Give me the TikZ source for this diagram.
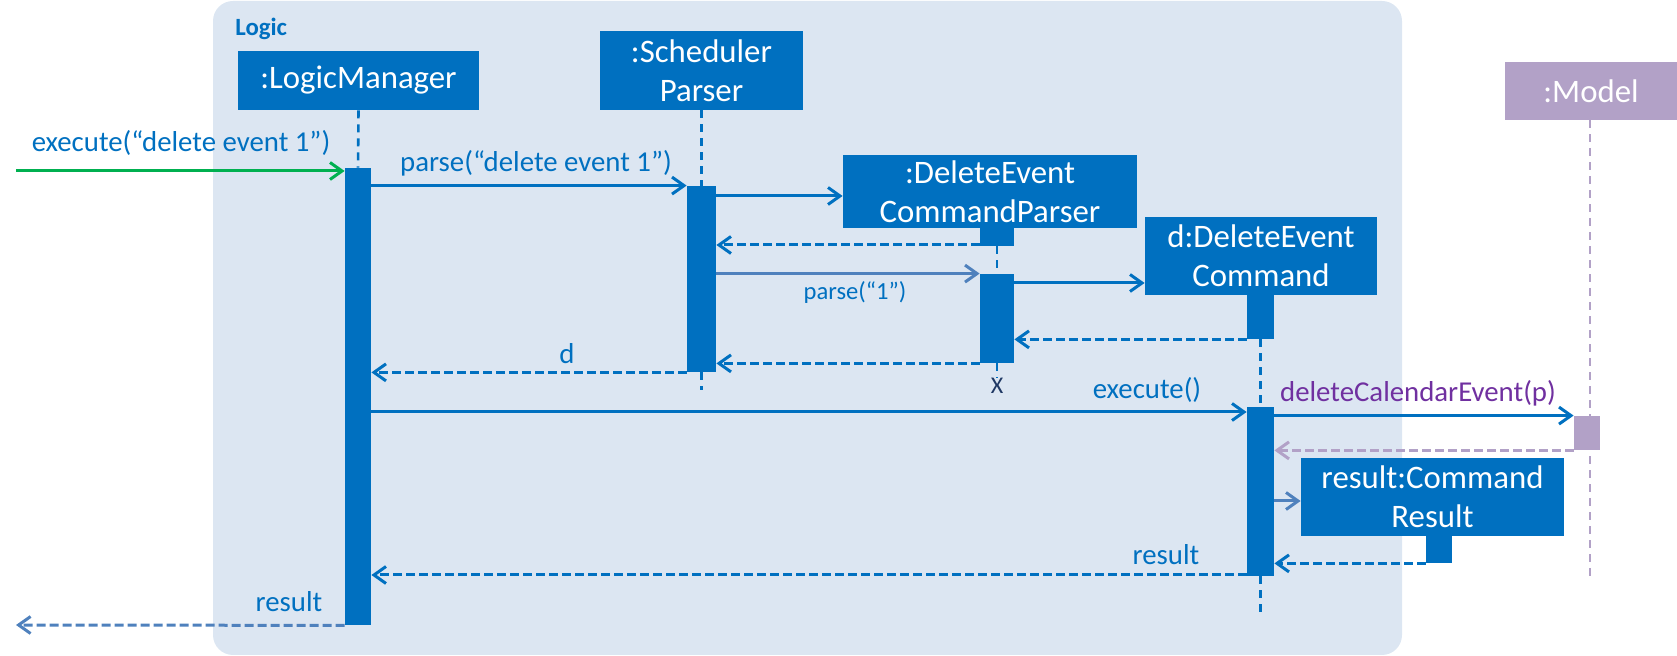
\documentclass[tikz,border=0pt]{standalone}
\usepackage{fontspec}
\setmainfont{Carlito}
\usetikzlibrary{arrows.meta}
\definecolor{mainblue}{HTML}{0070C0}
\definecolor{bgblue}{HTML}{DCE6F2}
\definecolor{softblue}{HTML}{4F81BD}
\definecolor{modelpurple}{HTML}{B2A1C7}
\definecolor{textpurple}{HTML}{7030A0}
\definecolor{entrygreen}{HTML}{00B050}
\definecolor{xnavy}{HTML}{1F3864}
\tikzset{
  objbox/.style={rectangle, fill=mainblue, text=white, inner sep=0pt, align=center,
    font=\fontsize{16.4}{19.5}\selectfont},
  actbar/.style={rectangle, fill=mainblue, inner sep=0pt},
  lifeln/.style={draw=mainblue, line width=1.3pt, dash pattern=on 4pt off 3pt},
  msgarrow/.style={draw=mainblue, line width=1.5pt, -{Straight Barb[length=6pt,width=8.5pt]}},
  retarrow/.style={msgarrow, dash pattern=on 4.5pt off 2pt},
  msglabel/.style={text=mainblue, inner sep=0pt, font=\fontsize{14.4}{17}\selectfont},
}
\begin{document}
\begin{tikzpicture}[x=0.5pt,y=-0.5pt]
\useasboundingbox (0,0) rectangle (1677,656);
% frame
\path[fill=bgblue, rounded corners=10pt] (213,1) rectangle (1402,655);
\node[anchor=west, inner sep=0pt, text=mainblue, font=\bfseries\fontsize{12.4}{14}\selectfont] (logic) at (235,29) {Logic};

% objects
\node[objbox, minimum width=120.5pt, minimum height=29.5pt] (lm) at (358.5,80.5) {:LogicManager};
\node[objbox, minimum width=101.5pt, minimum height=39.5pt] (sp) at (701.5,70.5) {:Scheduler\\Parser};
\node[objbox, minimum width=147pt, minimum height=36.5pt] (decp) at (990,191.5) {:DeleteEvent\\CommandParser};
\node[objbox, minimum width=116pt, minimum height=39pt] (dec) at (1261,256) {d:DeleteEvent\\Command};
\node[objbox, fill=modelpurple, minimum width=86pt, minimum height=29pt] (model) at (1591,91) {:Model};
\node[objbox, minimum width=131.5pt, minimum height=39pt] (cr) at (1432.5,497) {result:Command\\Result};

% end points
\coordinate (spend) at (701.5,390);
\coordinate (decend) at (1260.5,613);
\coordinate (modelend) at (1590,582);
\coordinate (entry) at (16,171);
\coordinate (exitpt) at (16,625);

% lifelines (under activations)
\draw[lifeln, draw=modelpurple] (model.south -| modelend) -- (modelend);

% activations
\node[actbar, minimum width=13pt, minimum height=228.5pt] (actLM) at (358,396.5) {};
\node[actbar, minimum width=14.5pt, minimum height=93pt] (actSP) at (701.5,279) {};
\node[actbar, minimum width=17pt, minimum height=9pt] (actDP0) at (997,237) {};
\node[actbar, minimum width=17pt, minimum height=44.5pt] (actDP) at (997,318.5) {};
\node[actbar, minimum width=13.5pt, minimum height=22pt] (actD0) at (1260.5,317) {};
\node[actbar, minimum width=13.5pt, minimum height=84.5pt] (actD) at (1260.5,491.5) {};
\node[actbar, fill=modelpurple, minimum width=13pt, minimum height=17pt] (actM) at (1587,433) {};
\node[actbar, minimum width=13pt, minimum height=13.5pt] (actCR) at (1439,549.5) {};
\node[inner sep=0pt, text=xnavy, font=\fontsize{12}{14}\selectfont] (xmark) at (997,386) {X};

\draw[lifeln] (lm.south) -- (actLM.north);
\draw[lifeln] (sp.south) -- (actSP.north);
\draw[lifeln] (actSP.south) -- (spend);
\draw[lifeln] (actDP0.south) -- (actDP.north);
\draw[lifeln] (actDP.south) -- (xmark.north);
\draw[lifeln] (actD0.south) -- (actD.north);
\draw[lifeln] (actD.south) -- (decend);

% messages
\draw[msgarrow, draw=entrygreen] (entry) -- (actLM.west |- entry);
\node[msglabel] (lexec) at (181,143) {execute(“delete event 1”)};

\draw[msgarrow] (actLM.east |- actSP.north) -- (actSP.north west);
\node[msglabel] (lparse) at (536,163) {parse(“delete event 1”)};

\draw[msgarrow] (actSP.east |- 0,196) -- (decp.west |- 0,196);
\draw[retarrow] (actDP0.west |- 0,245) -- (actSP.east |- 0,245);

\draw[msgarrow, draw=softblue] (actSP.east |- actDP.north) -- (actDP.north west);
\node[msglabel, font=\fontsize{12.3}{14}\selectfont] (lparse1) at (855,292) {parse(“1”)};

\draw[msgarrow] (actDP.east |- 0,283) -- (dec.west |- 0,283);
\draw[retarrow] (actD0.south west) -- (actDP.east |- actD0.south);
\draw[retarrow] (actDP.south west) -- (actSP.east |- actDP.south);

\draw[retarrow] (actSP.south west) -- (actLM.east |- actSP.south);
\node[msglabel] (ld) at (567,354) {d};

\draw[msgarrow] (actLM.east |- 0,412) -- (actD.west |- 0,412);
\node[msglabel] (lexec2) at (1147,390) {execute()};

\draw[msgarrow] (actD.east |- actM.north) -- (actM.north west);
\node[msglabel, text=textpurple] (ldel) at (1418,393) {deleteCalendarEvent(p)};

\draw[retarrow, draw=modelpurple] (actM.south west) -- (actD.east |- actM.south);

\draw[msgarrow, draw=softblue] (actD.east |- 0,501) -- (cr.west |- 0,501);
\draw[retarrow] (actCR.south west) -- (actD.east |- actCR.south);

\draw[retarrow] (actD.west |- 0,575) -- (actLM.east |- 0,575);
\node[msglabel] (lres1) at (1166,555) {result};

\draw[retarrow, draw=softblue] (actLM.south west) -- (exitpt);
\node[msglabel] (lres2) at (289,602) {result};
\end{tikzpicture}
\end{document}
